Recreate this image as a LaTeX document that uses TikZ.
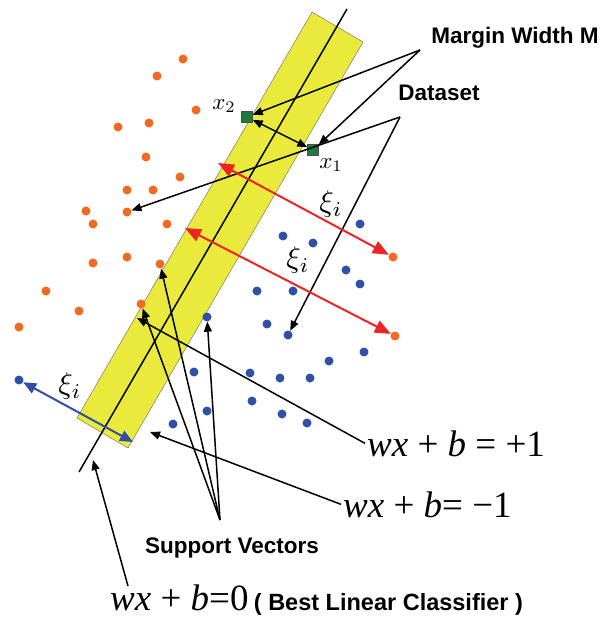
\documentclass[tikz,border=0pt]{standalone}
\usepackage{fontspec}
\usepackage{xcolor}
\usetikzlibrary{arrows.meta, positioning, calc}
\newfontfamily\labelfont{Liberation Sans}
\newfontfamily\eqfont{Liberation Serif}
\definecolor{stripyellow}{HTML}{EAEA3C}
\definecolor{svmorange}{HTML}{F26A22}
\definecolor{svmblue}{HTML}{2F4FA8}
\definecolor{svmred}{HTML}{EE2424}
\definecolor{svmgreen}{HTML}{1C7A3C}

\begin{document}
\begin{tikzpicture}[x=1pt, y=-1pt,
      dotO/.style={circle, fill=svmorange, inner sep=0pt, minimum size=9pt},
      dotB/.style={circle, fill=svmblue, inner sep=0pt, minimum size=9pt},
      sample/.style={rectangle, draw=black!70, fill=svmgreen, inner sep=0pt,
        minimum size=11pt},
      ptr/.style={line width=1.5pt, -{Triangle[length=10pt, width=8pt]}},
      slack/.style={line width=2pt, svmred,
        {Triangle[length=16pt, width=13pt]}-{Triangle[length=16pt, width=13pt]}},
      slackb/.style={line width=2pt, svmblue,
        {Triangle[length=13pt, width=11pt]}-{Triangle[length=13pt, width=11pt]}},
      tag/.style={font=\labelfont\bfseries\fontsize{22.5}{22.5}\selectfont},
      eq/.style={font=\eqfont\fontsize{37}{37}\selectfont, inner sep=2pt, anchor=base west},
      xi/.style={scale=3, transform shape, inner sep=0pt},
      xlab/.style={scale=2.3, transform shape, inner sep=0pt}
    ]
      \useasboundingbox (0,0) rectangle (603,619);
      % margin strip and separating line
      \draw[black!60, fill=stripyellow] (312,12) -- (363,42) -- (128,448) -- (77,418) -- cycle;
      \coordinate (ctop) at (347,9);
      \coordinate (cbot) at (79,472);
      \draw[line width=1.5pt] (ctop) -- (cbot);
      % samples
      \foreach \x/\y [count=\i] in {183/59, 157/76, 196/110, 118/127, 149/123, 146/157,
          180/177, 127/190, 153/190, 86/211, 93/224, 167/224, 93/263, 127/257,
          46/291, 79/311, 19/327}
        \node[dotO] (o\i) at (\x,\y) {};
      \foreach \x/\y [count=\i] in {360/224, 313/243, 283/236, 346/270, 360/284, 257/291,
          293/291, 267/324, 364/352, 329/361, 310/378, 250/373, 280/378, 194/372,
          252/401, 207/411, 282/414, 307/423, 173/424}
        \node[dotB] (b\i) at (\x,\y) {};
      \node[dotO] (odata) at (127,212) {};
      \node[dotO] (sv1) at (160,264) {};
      \node[dotO] (sv2) at (141,304) {};
      \node[dotO] (or1) at (393,257) {};
      \node[dotO] (or2) at (395,336) {};
      \node[dotB] (bdata) at (288,335) {};
      \node[dotB] (sv3) at (207,317) {};
      \node[dotB] (bout) at (19,380) {};
      \node[sample] (x2) at (247,117) {};
      \node[sample] (x1) at (313,150) {};
      \node[xlab] (x2l) at ($(x2)+(-23,-11)$) {$x_2$};
      \node[xlab] (x1l) at ($(x1)+(18,15)$) {$x_1$};
      % labels
      \node[tag] (mwl) at (515,38) {Margin Width M};
      \node[tag] (dsl) at (439,93) {Dataset};
      \node[tag] (svl) at (232,548) {Support Vectors};
      \node[eq] (eqp) at (365,456) {{\itshape wx} + {\itshape b} = +1};
      \node[eq] (eqm) at (341,517) {{\itshape wx} + {\itshape b}= −1};
      \node[eq] (eqz) at (108,610) {{\itshape wx} + {\itshape b}=0};
      \node[font=\labelfont\bfseries\fontsize{23.5}{23.5}\selectfont, inner sep=0pt,
        anchor=base west, xshift=3pt] (bestl) at (eqz.base east) {( Best Linear Classifier )};
      \coordinate (mwfoot) at (420,50);
      \coordinate (dsfoot) at (400,117);
      \coordinate (svfoot) at (220,520);
      \coordinate (zfoot) at (128,586);
      \coordinate (pplane) at (137,318);
      \coordinate (mplane) at (150,432);
      \coordinate (zplane) at (93,460);
      \coordinate (r1a) at (218,163);
      \coordinate (r2a) at (185,228);
      \coordinate (bend) at (133,442);
      % connectors
      \draw[ptr] (mwfoot) -- (x2);
      \draw[ptr] (mwfoot) -- (x1);
      \draw[ptr] (dsfoot) -- (odata);
      \draw[ptr] (dsfoot) -- (bdata);
      \draw[line width=1.5pt, {Triangle[length=10pt, width=8pt]}-{Triangle[length=10pt, width=8pt]}]
        (x2) -- (x1);
      \draw[ptr] (svfoot) -- (sv1);
      \draw[ptr] (svfoot) -- (sv2);
      \draw[ptr] (svfoot) -- (sv3);
      \draw[ptr] (eqp.west) -- (pplane);
      \draw[ptr] (eqm.west) -- (mplane);
      \draw[ptr] (zfoot) -- (zplane);
      \draw[slack] (r1a) -- (or1);
      \draw[slack] (r2a) -- (or2);
      \draw[slackb] (bout) -- (bend);
      \node[xi] (xi1) at (331,204) {$\xi_i$};
      \node[xi] (xi2) at (298,260) {$\xi_i$};
      \node[xi] (xi3) at (70,386) {$\xi_i$};
    \end{tikzpicture}
\end{document}
